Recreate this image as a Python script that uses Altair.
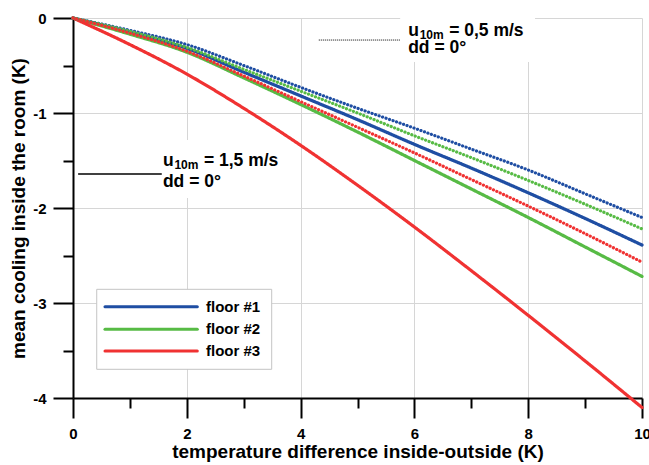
import altair as alt
import pandas as pd

FONT = "Liberation Sans"

# ---- data ----
x_vals = [0, 1, 2, 3, 4, 5, 6, 7, 8, 9, 10]
floor1_15 = [0, -0.15, -0.32, -0.57, -0.82, -1.07, -1.33, -1.58, -1.84, -2.11, -2.39]
floor2_15 = [0, -0.17, -0.36, -0.63, -0.91, -1.20, -1.50, -1.80, -2.10, -2.41, -2.72]
floor3_15 = [0, -0.28, -0.59, -0.95, -1.34, -1.76, -2.20, -2.66, -3.13, -3.61, -4.10]
floor1_05 = [0, -0.13, -0.28, -0.50, -0.73, -0.95, -1.16, -1.38, -1.60, -1.85, -2.10]
floor2_05 = [0, -0.14, -0.31, -0.54, -0.77, -1.00, -1.24, -1.47, -1.71, -1.96, -2.22]
floor3_05 = [0, -0.16, -0.35, -0.61, -0.88, -1.15, -1.42, -1.70, -1.98, -2.27, -2.57]

floors = ["floor #1", "floor #2", "floor #3"]
winds = ["1,5 m/s", "0,5 m/s"]
floor_colors = ["#1f4ea3", "#57bb45", "#f03232"]

x_major = [0, 2, 4, 6, 8, 10]
x_minor = [1, 3, 5, 7, 9]
y_major = [0, -1, -2, -3, -4]
y_minor = [-0.5, -1.5, -2.5, -3.5]

series = [
    ("floor #1", "1,5 m/s", floor1_15),
    ("floor #2", "1,5 m/s", floor2_15),
    ("floor #3", "1,5 m/s", floor3_15),
    ("floor #1", "0,5 m/s", floor1_05),
    ("floor #2", "0,5 m/s", floor2_05),
    ("floor #3", "0,5 m/s", floor3_05),
]
rows = []
for fl, w, vals in series:
    for xv, yv in zip(x_vals, vals):
        rows.append({"x": xv, "y": yv, "floor": fl, "wind": w})
df = pd.DataFrame(rows)

# annotation blocks (speed 0,5 and 1,5), placed in data units
ann_x = [5.89, 1.58]
ann_y1 = [-0.19, -1.563]
ann_y2 = [-0.368, -1.774]
ann_speed = ["= 0,5 m/s", "= 1,5 m/s"]
ann_dir = ["dd = 0°", "dd = 0°"]
box_x1 = [5.75, 0.05]
box_x2 = [8.12, 3.81]
box_y1 = [0.105, -1.284]
box_y2 = [-0.463, -1.895]
sample_x1 = [4.32, 0.09]
sample_x2 = [5.76, 1.56]
sample_y = [-0.232, -1.642]

ann = pd.DataFrame({
    "x": ann_x, "y1": ann_y1, "y2": ann_y2, "speed": ann_speed, "dir": ann_dir,
    "bx1": box_x1, "bx2": box_x2, "by1": box_y1, "by2": box_y2,
    "sx1": sample_x1, "sx2": sample_x2, "sy": sample_y,
})

# legend placement, in data units
leg_row_y = [-3.039, -3.277, -3.505]
leg_line_x1 = 0.562
leg_line_x2 = 2.185
leg_text_x = 2.337
leg_box = {"x1": 0.417, "x2": 3.492, "y1": -2.856, "y2": -3.698}

leg = pd.DataFrame({"floor": floors, "y": leg_row_y,
                    "x1": [leg_line_x1] * 3, "x2": [leg_line_x2] * 3, "tx": [leg_text_x] * 3})
legbox = pd.DataFrame([leg_box])

xs = alt.Scale(domain=[0, 10], nice=False, zero=False)
ys = alt.Scale(domain=[-4, 0], nice=False, zero=False)
cs = alt.Scale(domain=floors, range=floor_colors)

lbl = "replace(datum.label, '\u2212', '-')"

major = alt.Chart(df).mark_point(opacity=0).encode(
    x=alt.X("x:Q", scale=xs, axis=alt.Axis(
        values=x_major, tickSize=20, labelPadding=8, titlePadding=1,
        title="temperature difference inside-outside (K)", orient="bottom")),
    y=alt.Y("y:Q", scale=ys, axis=alt.Axis(
        values=y_major, tickSize=20, labelPadding=7, titlePadding=4, labelExpr=lbl,
        title="mean cooling inside the room (K)", orient="left")),
)

minor = alt.Chart(df).mark_point(opacity=0).encode(
    x=alt.X("x:Q", scale=xs, axis=alt.Axis(
        values=x_minor, tickSize=10, labels=False, domain=False, grid=False,
        title=None, orient="bottom")),
    y=alt.Y("y:Q", scale=ys, axis=alt.Axis(
        values=y_minor, tickSize=10, labels=False, domain=False, grid=False,
        title=None, orient="left")),
)

boxes = alt.Chart(ann).mark_rect(color="white").encode(
    x=alt.X("bx1:Q", scale=xs, axis=None), x2="bx2:Q",
    y=alt.Y("by1:Q", scale=ys, axis=None), y2="by2:Q",
)

lines = alt.Chart(df).mark_line(strokeWidth=3.2, strokeCap="round", interpolate="monotone").encode(
    x=alt.X("x:Q", scale=xs, axis=None),
    y=alt.Y("y:Q", scale=ys, axis=None),
    color=alt.Color("floor:N", scale=cs, legend=None),
    strokeDash=alt.StrokeDash("wind:N", scale=alt.Scale(domain=winds, range=[[1, 0], [0.1, 3.6]]),
                              legend=None),
    detail="wind:N",
)

sample_dot = alt.Chart(ann.iloc[[0]]).mark_rule(color="black", strokeWidth=1, strokeDash=[1, 1]).encode(
    x=alt.X("sx1:Q", scale=xs, axis=None), x2="sx2:Q",
    y=alt.Y("sy:Q", scale=ys, axis=None),
)
sample_solid = alt.Chart(ann.iloc[[1]]).mark_rule(color="black", strokeWidth=1.5).encode(
    x=alt.X("sx1:Q", scale=xs, axis=None), x2="sx2:Q",
    y=alt.Y("sy:Q", scale=ys, axis=None),
)

tkw = dict(font=FONT, fontWeight="bold", color="black", align="left", baseline="alphabetic")
t_u = alt.Chart(ann).mark_text(fontSize=17.5, **tkw).encode(
    x=alt.X("x:Q", scale=xs, axis=None), y=alt.Y("y1:Q", scale=ys, axis=None),
    text=alt.value("u"))
t_sub = alt.Chart(ann).mark_text(fontSize=12, dx=11.5, dy=3, **tkw).encode(
    x=alt.X("x:Q", scale=xs, axis=None), y=alt.Y("y1:Q", scale=ys, axis=None),
    text=alt.value("10m"))
t_speed = alt.Chart(ann).mark_text(fontSize=17.5, dx=41, **tkw).encode(
    x=alt.X("x:Q", scale=xs, axis=None), y=alt.Y("y1:Q", scale=ys, axis=None),
    text="speed:N")
t_dir = alt.Chart(ann).mark_text(fontSize=17.5, **tkw).encode(
    x=alt.X("x:Q", scale=xs, axis=None), y=alt.Y("y2:Q", scale=ys, axis=None),
    text="dir:N")

leg_rect = alt.Chart(legbox).mark_rect(fill="white", stroke="#c4c4c4", strokeWidth=1).encode(
    x=alt.X("x1:Q", scale=xs, axis=None), x2="x2:Q",
    y=alt.Y("y1:Q", scale=ys, axis=None), y2="y2:Q",
)
leg_lines = alt.Chart(leg).mark_rule(strokeWidth=3, strokeCap="round").encode(
    x=alt.X("x1:Q", scale=xs, axis=None), x2="x2:Q",
    y=alt.Y("y:Q", scale=ys, axis=None),
    color=alt.Color("floor:N", scale=cs, legend=None),
)
leg_text = alt.Chart(leg).mark_text(font=FONT, fontWeight="bold", fontSize=15, color="black",
                                    align="left", baseline="middle").encode(
    x=alt.X("tx:Q", scale=xs, axis=None),
    y=alt.Y("y:Q", scale=ys, axis=None),
    text="floor:N",
)

chart = alt.layer(
    major, minor, boxes, lines, sample_dot, sample_solid, t_u, t_sub, t_speed, t_dir,
    leg_rect, leg_lines, leg_text
).resolve_axis(x="independent", y="independent").properties(
    width=569, height=380,
    autosize=alt.AutoSizeParams(type="none"),
    padding={"left": 73, "top": 18, "right": 7, "bottom": 67},
).configure_view(stroke=None).configure_axis(
    domainColor="black", domainWidth=2, tickColor="black", tickWidth=2,
    gridColor="#d6d6d6", gridWidth=1,
    labelFont=FONT, labelFontSize=15, labelFontWeight="bold", labelColor="black",
    titleFont=FONT, titleFontSize=19, titleFontWeight="bold", titleColor="black",
    labelFlush=False, labelOverlap=False,
)

chart.save("out.html", embed_options={"renderer": "svg", "actions": False})
